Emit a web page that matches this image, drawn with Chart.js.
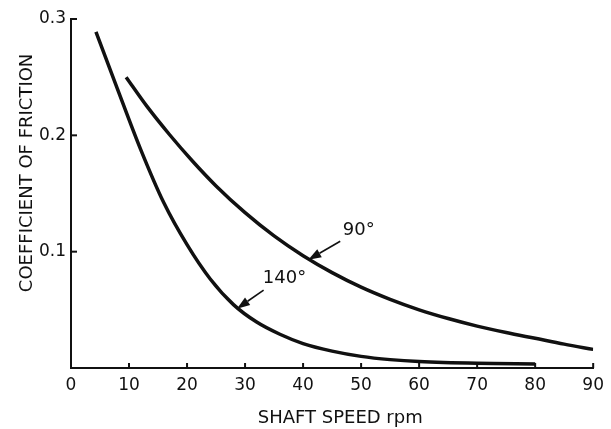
<!DOCTYPE html>
<html>
<head>
<meta charset="utf-8">
<script src="https://cdn.jsdelivr.net/npm/chart.js@4.4.1/dist/chart.umd.min.js"></script>
<style>
body{margin:0;background:#fff}
</style>
</head>
<body>
<canvas id="myChart" width="611" height="429"></canvas>
<script>
// shaft speed (rpm) vs coefficient of friction
const speed140=[4.3,8,12,16,20,24,28,32,36,40,45,50,55,60,70,80];
const friction140=[0.289,0.240,0.188,0.142,0.106,0.0765,0.0545,0.0395,0.029,0.021,0.0145,0.010,0.0072,0.0055,0.004,0.0035];
const speed90=[9.5,13,17,21,25,30,35,40,45,50,55,60,65,70,75,80,85,90];
const friction90=[0.250,0.2255,0.2005,0.1775,0.1565,0.1335,0.1135,0.0965,0.082,0.0695,0.059,0.050,0.0425,0.036,0.0305,0.0255,0.0205,0.016];

const xTicks=[10,20,30,40,50,60,70,80,90];
const yTicks=[0.1,0.2,0.3];

// curve labels with arrows
const labelText=['90°','140°'];
const labelX=[49.6,36.8];
const labelY=[0.1144,0.0731];
const arrowFromX=[46.4,33.2];
const arrowFromY=[0.109,0.067];
const arrowToX=[40.9,28.6];
const arrowToY=[0.093,0.051];

const xTitle='SHAFT SPEED rpm';
const yTitle='COEFFICIENT OF FRICTION';

const ink='#111';
const fontFam='"DejaVu Sans", sans-serif';

const toPoints=(xs,ys)=>xs.map((v,i)=>({x:v,y:ys[i]}));

const extras={
  id:'extras',
  afterDraw(chart){
    const ctx=chart.ctx, x=chart.scales.x, y=chart.scales.y;
    ctx.save();
    ctx.strokeStyle=ink; ctx.fillStyle=ink;
    // inward tick marks
    ctx.lineWidth=2;
    xTicks.forEach(v=>{
      const px=x.getPixelForValue(v);
      ctx.beginPath(); ctx.moveTo(px,y.bottom); ctx.lineTo(px,y.bottom-5); ctx.stroke();
    });
    yTicks.forEach(v=>{
      const py=y.getPixelForValue(v);
      ctx.beginPath(); ctx.moveTo(x.left,py); ctx.lineTo(x.left+6,py); ctx.stroke();
    });
    // arrows
    labelText.forEach((t,i)=>{
      const x1=x.getPixelForValue(arrowFromX[i]), y1=y.getPixelForValue(arrowFromY[i]);
      const x2=x.getPixelForValue(arrowToX[i]), y2=y.getPixelForValue(arrowToY[i]);
      const a=Math.atan2(y2-y1,x2-x1), hl=13, hw=4.5;
      const bx=x2-hl*Math.cos(a), by=y2-hl*Math.sin(a);
      ctx.lineWidth=1.6;
      ctx.beginPath(); ctx.moveTo(x1,y1); ctx.lineTo(bx,by); ctx.stroke();
      ctx.beginPath();
      ctx.moveTo(x2,y2);
      ctx.lineTo(bx+hw*Math.sin(a),by-hw*Math.cos(a));
      ctx.lineTo(bx-hw*Math.sin(a),by+hw*Math.cos(a));
      ctx.closePath(); ctx.fill();
      ctx.font='18px '+fontFam;
      ctx.textAlign='center'; ctx.textBaseline='alphabetic';
      ctx.fillText(t,x.getPixelForValue(labelX[i]),y.getPixelForValue(labelY[i]));
    });
    // axis titles
    ctx.font='18px '+fontFam;
    ctx.textAlign='center'; ctx.textBaseline='alphabetic';
    ctx.fillText(xTitle,x.getPixelForValue(46.4),chart.height-6);
    ctx.translate(32,y.getPixelForValue(0.1677));
    ctx.rotate(-Math.PI/2);
    ctx.fillText(yTitle,0,0);
    ctx.restore();
  }
};

const ctx=document.getElementById('myChart').getContext('2d');
new Chart(ctx,{
  type:'line',
  data:{
    datasets:[{
      label:'140°',
      data:toPoints(speed140,friction140),
      borderColor:ink,
      borderWidth:3.5,
      pointRadius:0,
      cubicInterpolationMode:'monotone',
      fill:false
    },{
      label:'90°',
      data:toPoints(speed90,friction90),
      borderColor:ink,
      borderWidth:3.5,
      pointRadius:0,
      cubicInterpolationMode:'monotone',
      fill:false
    }]
  },
  options:{
    responsive:false,
    devicePixelRatio:1,
    animation:false,
    layout:{padding:{left:0,right:13,top:19,bottom:0}},
    plugins:{legend:{display:false},tooltip:{enabled:false}},
    scales:{
      x:{
        type:'linear',
        min:0,max:90,
        grid:{display:false,drawTicks:true,tickLength:0},
        border:{display:true,color:ink,width:2},
        ticks:{stepSize:10,color:ink,padding:7,font:{family:fontFam,size:17}},
        afterFit:s=>{s.height=61;}
      },
      y:{
        min:0,max:0.3,
        grid:{display:false,drawTicks:true,tickLength:0},
        border:{display:true,color:ink,width:2},
        ticks:{stepSize:0.1,color:ink,padding:5,font:{family:fontFam,size:17},
          callback:v=>v===0?'':v.toFixed(1)},
        afterFit:s=>{s.width=71;}
      }
    }
  },
  plugins:[extras]
});
</script>
</body>
</html>
